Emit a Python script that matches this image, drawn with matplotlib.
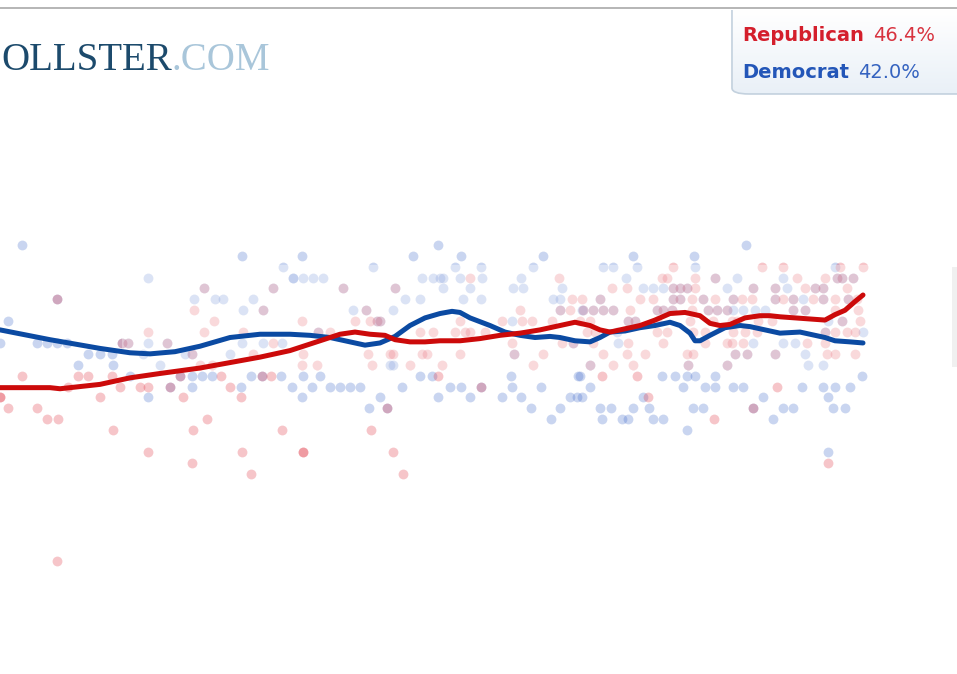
import numpy as np
import matplotlib
matplotlib.use("Agg")
import matplotlib.pyplot as plt
from matplotlib.patches import FancyBboxPatch, Rectangle
from matplotlib.colors import LinearSegmentedColormap

# ---------------- data (day index, percent) ----------------
rep_day = [148, 0, 22, 78, 88, 112, 68, 120, 140, 148, 0, 100, 8, 37, 47, 58, 113, 148, 57, 122, 128, 57,
           204, 273, 194, 263, 214, 204, 243, 167, 273, 192, 253, 200, 212, 180, 221, 262, 271, 170, 230,
           183, 241, 207, 193, 282, 242, 192, 251, 303,
           343, 395, 366, 302, 355, 370, 377, 380, 318, 330, 420, 433, 303, 368, 390, 393, 422, 427,
           302, 317, 372, 410, 438, 387, 371, 303, 393, 403,
           470, 559, 572, 582, 520, 560, 570, 460, 502, 522, 532, 552, 455, 465, 470, 485, 512, 562, 573,
           460, 514, 543, 442, 533, 481,
           673, 662, 667, 695, 715, 612, 627, 673, 680, 687, 695, 600, 640, 653, 673, 680, 692, 703, 715,
           583, 593, 603, 613, 630, 657, 663, 672, 692, 708, 717, 727, 580, 590, 628, 635, 657, 690, 713,
           587, 595, 657, 667, 693, 705, 593, 628, 663, 705, 727, 603, 627, 645, 687, 693, 590, 613, 633,
           688, 727, 602, 637, 648, 714,
           762, 783, 840, 863, 797, 825, 837, 842, 853, 753, 775, 805, 815, 823, 847, 733, 742, 752, 775,
           783, 793, 813, 823, 835, 848, 857, 793, 805, 835, 858, 732, 737, 758, 772, 842, 860, 733, 745,
           757, 825, 835, 847, 855, 732, 743, 807, 825, 735, 747, 775, 827, 835, 855, 777, 753, 828]
rep_pct = [43, 37, 39, 39, 39, 39, 38, 38, 38, 38, 37, 37, 36, 36, 35, 35, 34, 32, 22, 42, 42, 46,
           47, 47, 45, 45, 44, 43, 43, 42, 42, 41, 41, 40, 40, 39, 39, 39, 39, 38, 38,
           37, 37, 35, 34, 34, 32, 31, 30, 32,
           47, 47, 45, 44, 44, 44, 44, 44, 43, 43, 43, 43, 41, 41, 41, 41, 41, 41,
           40, 40, 40, 40, 39, 36, 34, 32, 32, 30,
           48, 48, 46, 46, 45, 45, 45, 44, 44, 44, 44, 44, 43, 43, 43, 43, 42, 42, 42,
           41, 41, 41, 40, 40, 38,
           49, 48, 48, 48, 48, 47, 47, 47, 47, 47, 47, 46, 46, 46, 46, 46, 46, 46, 46,
           45, 45, 45, 45, 45, 45, 45, 45, 45, 45, 45, 45, 44, 44, 44, 44, 44, 44, 44,
           43, 43, 43, 43, 43, 43, 42, 42, 42, 42, 42, 41, 41, 41, 41, 41, 40, 40, 40,
           40, 40, 39, 39, 37, 35,
           49, 49, 49, 49, 48, 48, 48, 48, 48, 47, 47, 47, 47, 47, 47, 46, 46, 46, 46,
           46, 46, 46, 46, 46, 46, 46, 45, 45, 45, 45, 44, 44, 44, 44, 44, 44, 43, 43,
           43, 43, 43, 43, 43, 42, 42, 42, 42, 41, 41, 41, 41, 41, 41, 38, 36, 31]

dem_day = [22, 148, 57, 8, 0, 37, 47, 57, 67, 122, 128, 148, 88, 100, 112, 143, 78, 113, 130, 148,
           242, 283, 293, 204, 273, 194, 215, 223, 253, 243, 263, 167, 263, 282, 242, 185, 192, 230, 160,
           180, 192, 202, 212, 251, 262, 281, 170, 192, 241, 292,
           302, 413, 438, 373, 293, 303, 313, 323, 422, 433, 343, 395, 405, 420, 353, 366, 393, 377, 380,
           318, 390, 393, 303, 320, 420, 432, 312, 330, 340, 350, 360, 402, 302, 380, 438, 369, 387,
           461, 543, 455, 481, 533, 440, 443, 460, 482, 521, 443, 470, 513, 523, 562, 463, 481, 553, 560,
           560, 582, 512, 573, 514, 511, 578, 450, 461, 481, 512, 541, 470, 502, 521, 570, 577, 531, 560,
           551,
           633, 694, 603, 613, 637, 695, 626, 715, 643, 653, 663, 673, 680, 687, 727, 600, 673, 680, 703,
           583, 593, 603, 613, 657, 663, 672, 708, 717, 727, 628, 635, 617, 618, 590, 688, 727, 580, 662,
           675, 687, 695, 715, 590, 683, 705, 715, 582, 643, 600, 611, 633, 649, 693, 703, 602, 622, 628,
           653, 663, 687,
           746, 835, 737, 783, 837, 842, 853, 753, 775, 787, 815, 823, 733, 775, 793, 803, 823, 848, 733,
           743, 755, 765, 793, 805, 828, 842, 825, 863, 753, 783, 795, 735, 747, 775, 805, 808, 823, 862,
           733, 743, 802, 823, 835, 850, 763, 828, 753, 783, 793, 833, 845, 773, 828]
dem_pct = [51, 48, 46, 44, 42, 42, 42, 42, 42, 42, 42, 42, 41, 41, 41, 41, 40, 40, 39, 37,
           50, 49, 48, 47, 47, 46, 46, 46, 46, 45, 45, 42, 42, 42, 42, 41, 41, 41, 40,
           39, 39, 39, 39, 39, 39, 39, 38, 38, 38, 38,
           50, 50, 51, 49, 48, 48, 48, 48, 48, 48, 47, 47, 46, 46, 45, 45, 45, 44, 44,
           43, 40, 40, 39, 39, 39, 39, 38, 38, 38, 38, 38, 38, 37, 37, 37, 36, 36,
           50, 50, 49, 49, 49, 48, 48, 48, 48, 48, 47, 47, 47, 47, 47, 46, 46, 46, 46,
           45, 45, 44, 42, 41, 39, 39, 38, 38, 38, 38, 38, 37, 37, 37, 37, 37, 36, 36,
           35,
           50, 50, 49, 49, 49, 49, 48, 48, 47, 47, 47, 47, 47, 47, 47, 46, 46, 46, 46,
           45, 45, 45, 45, 45, 45, 45, 45, 45, 45, 44, 44, 43, 42, 40, 40, 40, 39, 39,
           39, 39, 39, 39, 38, 38, 38, 38, 37, 37, 36, 36, 36, 36, 36, 36, 35, 35, 35,
           35, 35, 34,
           51, 49, 48, 48, 48, 48, 48, 47, 47, 47, 47, 47, 46, 46, 46, 46, 46, 46, 45,
           45, 45, 45, 45, 45, 44, 44, 43, 43, 42, 42, 42, 41, 41, 41, 41, 40, 40, 39,
           38, 38, 38, 38, 38, 38, 37, 37, 36, 36, 36, 36, 36, 35, 32]

trend_rep_day = [0, 50, 60, 80, 100, 130, 160, 200, 230, 260, 290, 320, 340, 355, 370, 385, 395, 410,
                 425, 440, 460, 480, 500, 520, 540, 560, 575, 590, 600, 610, 620, 640, 655, 670, 685,
                 700, 710, 720, 730, 745, 760, 770, 780, 795, 810, 825, 835, 845, 855, 863]
trend_rep = [37.9, 37.9, 37.8, 38.0, 38.2, 38.8, 39.2, 39.7, 40.2, 40.7, 41.3, 42.2, 42.8, 43.0, 42.8,
             42.7, 42.3, 42.1, 42.1, 42.2, 42.2, 42.4, 42.7, 42.9, 43.2, 43.6, 43.9, 43.6, 43.2, 43.0,
             43.2, 43.6, 44.1, 44.7, 44.8, 44.5, 43.8, 43.6, 43.7, 44.3, 44.5, 44.5, 44.4, 44.3, 44.2,
             44.1, 44.6, 45.0, 45.8, 46.4]

trend_dem_day = [0, 50, 100, 130, 150, 175, 200, 230, 260, 290, 310, 330, 350, 365, 380, 395, 410, 425,
                 440, 452, 460, 470, 490, 505, 520, 535, 550, 560, 575, 590, 600, 610, 625, 640, 655,
                 670, 680, 690, 695, 700, 710, 725, 740, 750, 765, 780, 800, 815, 825, 835, 850, 863]
trend_dem = [43.2, 42.3, 41.5, 41.1, 41.0, 41.2, 41.7, 42.5, 42.8, 42.8, 42.7, 42.5, 42.1, 41.8, 42.0,
             42.6, 43.6, 44.3, 44.7, 44.9, 44.8, 44.3, 43.6, 43.0, 42.7, 42.5, 42.6, 42.5, 42.2, 42.1,
             42.5, 43.0, 43.1, 43.4, 43.6, 43.9, 43.6, 42.9, 42.2, 42.2, 42.7, 43.4, 43.6, 43.5, 43.2,
             42.9, 43.0, 42.7, 42.5, 42.2, 42.1, 42.0]

latest_labels = ["Republican", "Democrat"]
latest_values = [46.4, 42.0]

# ---------------- styling ----------------
W, H = 957, 674
RED_DOT = "#e0303f"
BLUE_DOT = "#3a66c8"
RED_LINE = "#cc0a0a"
BLUE_LINE = "#0b4aa2"

fig = plt.figure(figsize=(W / 100, H / 100), dpi=100)
fig.patch.set_facecolor("white")
ax = fig.add_axes([0, 0, 1, 1])
ax.set_xlim(0, W)
ax.set_ylim(46.4 - (H - 295) / 10.9, 46.4 + 295 / 10.9)
ax.axis("off")

ax.scatter(dem_day, dem_pct, s=50, color=BLUE_DOT, alpha=0.27, linewidths=0, zorder=2)
ax.scatter(rep_day, rep_pct, s=50, color=RED_DOT, alpha=0.28, linewidths=0, zorder=2)

# faint white band overlay seen in the reference
band = Rectangle((122 / W, 1 - 370 / H), (888 - 122) / W, (370 - 265) / H,
                 transform=ax.transAxes, facecolor="white", alpha=0.35, lw=0, zorder=3)
ax.add_patch(band)

ax.plot(trend_dem_day, trend_dem, color=BLUE_LINE, lw=3.6, solid_capstyle="round",
        solid_joinstyle="round", zorder=4)
ax.plot(trend_rep_day, trend_rep, color=RED_LINE, lw=3.6, solid_capstyle="round",
        solid_joinstyle="round", zorder=5)

# top rule
fig.add_artist(plt.Line2D([0, 1], [1 - 8 / H, 1 - 8 / H], transform=fig.transFigure,
                          color="#b5b5b5", lw=1.4))
# faint edge at far right
fig.add_artist(Rectangle((952 / W, 1 - 367 / H), 5 / W, 100 / H, transform=fig.transFigure,
                         facecolor="#f0f0f0", lw=0))

# logo
logo = fig.text(1 / W, 1 - 70 / H, "OLLSTER", fontsize=28, family="Liberation Serif",
                color="#1c4a6c", ha="left", va="baseline")
fig.canvas.draw()
bb = logo.get_window_extent()
fig.text(bb.x1 / W, 1 - 70 / H, ".COM", fontsize=28, family="Liberation Serif",
         color="#a9c6da", ha="left", va="baseline")

# legend box
lx0, ly0, lx1, ly1 = 731, 10, 975, 95
leg_ax = fig.add_axes([lx0 / W, 1 - ly1 / H, (lx1 - lx0) / W, (ly1 - ly0) / H])
leg_ax.set_xlim(0, 1)
leg_ax.set_ylim(0, 1)
leg_ax.axis("off")
grad = np.linspace(0, 1, 100).reshape(-1, 1)
cmap = LinearSegmentedColormap.from_list("g", ["#e9f0f7", "#ffffff"])
im = leg_ax.imshow(grad, extent=[0, 1, 0, 1], origin="lower", cmap=cmap, aspect="auto", zorder=0)
box = FancyBboxPatch((0.004, 0.012), 1.2, 1.2, boxstyle="round,pad=0,rounding_size=0.07",
                     transform=leg_ax.transAxes, facecolor="none", edgecolor="#c3d1de", lw=1.2,
                     zorder=2)
leg_ax.add_patch(box)
im.set_clip_path(box)

name_colors = [("#d41f2c", "#d8333f"), ("#2356b8", "#3563c0")]
baselines = [41, 78]
for lab, val, (c1, c2), yb in zip(latest_labels, latest_values, name_colors, baselines):
    t = fig.text(742 / W, 1 - yb / H, lab, fontsize=14, fontweight="bold", color=c1,
                 family="DejaVu Sans", ha="left", va="baseline")
    fig.canvas.draw()
    tb = t.get_window_extent()
    fig.text((tb.x1 + 9) / W, 1 - yb / H, f"{val:.1f}%", fontsize=14, color=c2,
             family="DejaVu Sans", ha="left", va="baseline")

fig.savefig("out.png", dpi=100, facecolor="white")
